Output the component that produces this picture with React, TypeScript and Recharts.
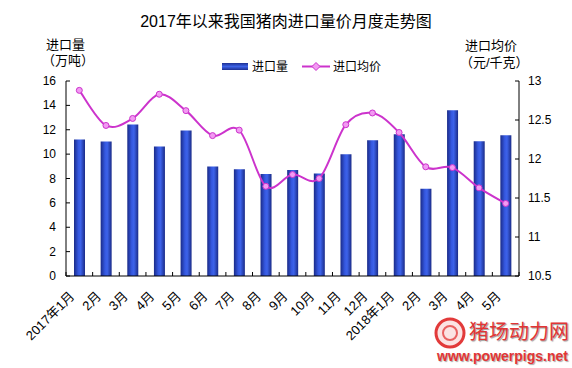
import React from "react";
import { ComposedChart, Bar, Line, XAxis, YAxis } from "recharts";

const months = [
  "2017年1月", "2月", "3月", "4月", "5月", "6月", "7月", "8月", "9月",
  "10月", "11月", "12月", "2018年1月", "2月", "3月", "4月", "5月",
];
// 进口量（万吨）
const volume = [11.2, 11.03, 12.43, 10.63, 11.93, 8.99, 8.75, 8.36, 8.69, 8.42, 10.0, 11.14, 11.63, 7.16, 13.6, 11.06, 11.55];
// 进口均价（元/千克）
const price = [12.88, 12.43, 12.52, 12.83, 12.62, 12.3, 12.37, 11.65, 11.8, 11.75, 12.44, 12.59, 12.34, 11.9, 11.89, 11.63, 11.43];

const leftTicks = [0, 2, 4, 6, 8, 10, 12, 14, 16];
const rightTicks = [10.5, 11, 11.5, 12, 12.5, 13];

const data = months.map((m, i) => ({ month: m, volume: volume[i], price: price[i] }));

const W = 572;
const H = 368;
const PLOT_LEFT = 66;
const PLOT_RIGHT = 519;
const BAND = (PLOT_RIGHT - PLOT_LEFT) / months.length;
const FONT = '"Liberation Sans", Arial, "Noto Sans CJK SC", sans-serif';
const MAGENTA = "#cc33cc";

// Excel-like smoothed line (Catmull-Rom as cubic bezier)
const smoothCurve: any = (context: any) => {
  let pts: number[][] = [];
  return {
    areaStart() {},
    areaEnd() {},
    lineStart() {
      pts = [];
    },
    point(x: number, y: number) {
      pts.push([+x, +y]);
    },
    lineEnd() {
      if (!pts.length) return;
      context.moveTo(pts[0][0], pts[0][1]);
      for (let i = 0; i < pts.length - 1; i++) {
        const p0 = pts[i - 1] || pts[i];
        const p1 = pts[i];
        const p2 = pts[i + 1];
        const p3 = pts[i + 2] || p2;
        context.bezierCurveTo(
          p1[0] + (p2[0] - p0[0]) / 6,
          p1[1] + (p2[1] - p0[1]) / 6,
          p2[0] - (p3[0] - p1[0]) / 6,
          p2[1] - (p3[1] - p1[1]) / 6,
          p2[0],
          p2[1]
        );
      }
    },
  };
};

const LeftTick = ({ x, y, payload }: any) => (
  <g>
    <line x1={x} x2={x + 4} y1={y} y2={y} stroke="#000" />
    <text x={x - 10} y={y + 4} textAnchor="end" fontSize={12} fill="#000" fontFamily={FONT}>
      {payload.value}
    </text>
  </g>
);

const RightTick = ({ x, y, payload }: any) => (
  <g>
    <line x1={x} x2={x - 4} y1={y} y2={y} stroke="#000" />
    <text x={x + 9} y={y + 4} textAnchor="start" fontSize={12} fill="#000" fontFamily={FONT}>
      {payload.value}
    </text>
  </g>
);

const BottomTick = ({ x, y, payload, index }: any) => (
  <g>
    <line x1={x - BAND / 2} x2={x - BAND / 2} y1={y} y2={y - 4} stroke="#000" />
    {index === months.length - 1 && (
      <line x1={x + BAND / 2} x2={x + BAND / 2} y1={y} y2={y - 4} stroke="#000" />
    )}
    <text
      x={x - 4}
      y={y + 21}
      textAnchor="end"
      fontSize={13}
      fill="#000"
      fontFamily={FONT}
      transform={`rotate(-45 ${x - 4} ${y + 21})`}
    >
      {payload.value}
    </text>
  </g>
);

const PriceDot = ({ cx, cy }: any) => (
  <circle cx={cx} cy={cy} r={3} fill="#f29af2" stroke={MAGENTA} strokeWidth={1} />
);

const abs = (left: number, top: number, extra: React.CSSProperties = {}): React.CSSProperties => ({
  position: "absolute",
  left,
  top,
  fontFamily: FONT,
  color: "#000",
  whiteSpace: "nowrap",
  lineHeight: 1,
  ...extra,
});

export default function App() {
  return (
    <div style={{ position: "absolute", left: 0, top: 0, width: W, height: H, background: "#fff", overflow: "hidden" }}>
      <div style={abs(0, 14, { width: W, textAlign: "center", fontSize: 16 })}>
        2017年以来我国猪肉进口量价月度走势图
      </div>
      <div style={abs(46, 38, { fontSize: 13 })}>进口量</div>
      <div style={abs(42, 54, { fontSize: 13 })}>（万吨）</div>
      <div style={abs(465, 39, { fontSize: 13 })}>进口均价</div>
      <div style={abs(460, 56, { fontSize: 13 })}>（元/千克）</div>

      {/* legend */}
      <svg style={{ position: "absolute", left: 0, top: 0 }} width={W} height={90}>
        <defs>
          <linearGradient id="legendBar" x1="0" y1="0" x2="0" y2="1">
            <stop offset="0" stopColor="#1d2f92" />
            <stop offset="0.5" stopColor="#3d63e6" />
            <stop offset="1" stopColor="#1d2f92" />
          </linearGradient>
        </defs>
        <rect x={222} y={63} width={26} height={7} fill="url(#legendBar)" />
        <text x={252} y={71} fontSize={12} fontFamily={FONT} fill="#000">进口量</text>
        <line x1={302} x2={330} y1={66.5} y2={66.5} stroke={MAGENTA} strokeWidth={2} />
        <path d="M316 62.5 L320 66.5 L316 70.5 L312 66.5 Z" fill="#f29af2" stroke={MAGENTA} strokeWidth={1} />
        <text x={333} y={71} fontSize={12} fontFamily={FONT} fill="#000">进口均价</text>
      </svg>

      <div style={{ position: "absolute", left: 0, top: 0 }}>
        <ComposedChart width={W} height={H} data={data} margin={{ top: 81, right: 0, bottom: 0, left: 0 }} barCategoryGap={0}>
          <defs>
            <linearGradient id="barGrad" x1="0" y1="0" x2="1" y2="0">
              <stop offset="0" stopColor="#1a2b88" />
              <stop offset="0.4" stopColor="#3558e0" />
              <stop offset="0.6" stopColor="#3d63ea" />
              <stop offset="1" stopColor="#1a2b88" />
            </linearGradient>
          </defs>
          <XAxis
            dataKey="month"
            height={92}
            interval={0}
            tickSize={0}
            tickMargin={0}
            axisLine={{ stroke: "#000" }}
            tickLine={false}
            tick={<BottomTick />}
          />
          <YAxis
            yAxisId="left"
            orientation="left"
            width={66}
            domain={[0, 16]}
            ticks={leftTicks}
            interval={0}
            tickSize={0}
            tickMargin={0}
            axisLine={{ stroke: "#000" }}
            tickLine={false}
            tick={<LeftTick />}
          />
          <YAxis
            yAxisId="right"
            orientation="right"
            width={W - PLOT_RIGHT}
            domain={[10.5, 13]}
            ticks={rightTicks}
            interval={0}
            tickSize={0}
            tickMargin={0}
            axisLine={{ stroke: "#000" }}
            tickLine={false}
            tick={<RightTick />}
          />
          <Bar yAxisId="left" dataKey="volume" barSize={11} fill="url(#barGrad)" isAnimationActive={false} />
          <Line
            yAxisId="right"
            dataKey="price"
            type={smoothCurve}
            stroke={MAGENTA}
            strokeWidth={2}
            dot={<PriceDot />}
            activeDot={false}
            isAnimationActive={false}
          />
        </ComposedChart>
      </div>

      {/* watermark */}
      <svg style={{ position: "absolute", left: 433, top: 316 }} width={36} height={34}>
        <circle cx={17} cy={17} r={14} fill="#fbe3e3" stroke="#e23a3a" strokeWidth={3} />
        <circle cx={17} cy={17} r={7} fill="none" stroke="#e86060" strokeWidth={2} />
      </svg>
      <div style={abs(469, 322, { fontSize: 20, color: "#e23535", textShadow: "1px 1px 1px #999" })}>猪场动力网</div>
      <div style={abs(437, 349, { fontSize: 14, fontWeight: "bold", color: "#e23535", textShadow: "1px 1px 1px #aaa" })}>
        www.powerpigs.net
      </div>
    </div>
  );
}
